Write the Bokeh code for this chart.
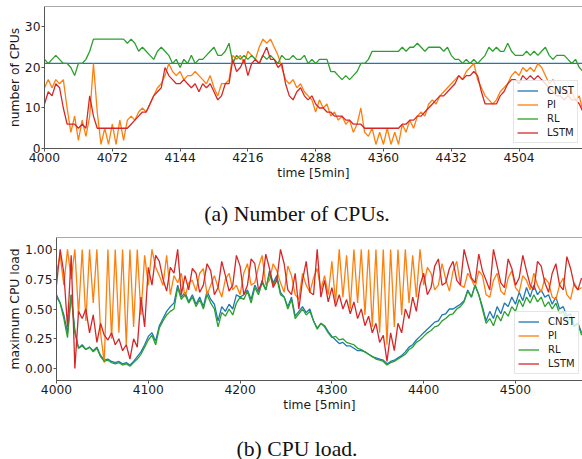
from bokeh.plotting import figure
from bokeh.models import Range1d, Legend, LegendItem, FixedTicker, Span
from bokeh.core.properties import value
from bokeh.embed import file_html
from bokeh.resources import INLINE

# ---------------- data ----------------
t = list(range(4000, 4576, 4))

cnst_cpu = [21] * 144
pi_cpu = [15,17,15,17,16,17,10,4,8,2,7,3,
          8,21,9,1,5,1,6,1,7,2,7,8,
          7,9,10,9,11,13,15,16,18,21,19,18,
          19,17,18,18,19,18,17,16,18,15,13,16,
          16,17,23,22,23,21,24,23,22,25,27,26,
          27,25,23,20,17,16,17,15,16,14,13,12,
          9,12,10,11,8,9,7,8,6,7,4,6,
          10,4,3,5,1,4,1,5,1,4,1,6,
          4,7,5,8,9,8,11,12,11,13,14,15,
          16,17,18,17,19,20,21,17,15,13,12,11,
          12,14,15,16,18,19,18,20,19,20,19,21,
          20,18,16,17,15,14,15,13,14,12,13,9]
rl_cpu = [22,21,22,23,22,21,21,20,18,21,21,22,
          24,27,27,27,27,27,27,27,27,27,26,27,
          26,24,25,24,23,22,24,25,24,23,21,22,
          20,22,21,23,21,22,22,23,24,25,23,23,
          24,26,21,23,22,23,22,23,22,21,23,22,
          23,22,21,23,22,22,23,22,22,23,21,22,
          21,22,22,22,19,19,18,17,18,17,18,19,
          21,21,22,24,24,24,24,24,24,24,24,25,
          24,25,25,26,25,24,25,25,25,25,24,25,
          23,22,22,21,22,21,22,21,22,23,25,24,
          25,24,24,26,24,23,23,23,24,23,24,23,
          24,25,23,22,23,23,23,22,21,22,20,19]
lstm_cpu = [11,14,13,16,15,10,6,6,6,5,6,5,
            13,8,5,5,5,5,5,5,5,5,5,6,
            7,8,9,9,11,13,14,15,20,18,17,16,
            16,17,16,15,16,14,16,15,16,14,12,13,
            16,16,22,19,20,22,18,21,22,21,23,25,
            22,22,20,21,16,13,12,14,15,13,12,13,
            11,10,10,9,9,8,8,8,7,7,6,6,
            6,5,5,5,5,5,5,5,5,5,5,6,
            6,7,7,8,8,9,10,11,12,13,13,14,
            15,16,18,17,18,18,19,18,14,11,11,11,
            11,13,14,16,17,17,16,18,17,18,17,18,
            17,16,15,14,13,13,12,13,12,12,11,9]

cnst_load = [0.62,0.55,0.45,0.30,0.62,0.32,0.17,0.20,0.16,0.18,0.15,0.18,
             0.11,0.07,0.08,0.06,0.05,0.06,0.04,0.05,0.03,0.06,0.10,0.14,
             0.20,0.27,0.30,0.23,0.36,0.42,0.48,0.52,0.55,0.70,0.60,0.64,
             0.56,0.62,0.54,0.60,0.52,0.65,0.58,0.54,0.40,0.52,0.48,0.54,
             0.50,0.62,0.60,0.62,0.66,0.58,0.70,0.64,0.74,0.66,0.82,0.72,
             0.78,0.64,0.60,0.52,0.60,0.44,0.48,0.52,0.47,0.50,0.40,0.34,
             0.38,0.36,0.31,0.27,0.24,0.21,0.22,0.19,0.19,0.17,0.15,0.15,
             0.14,0.12,0.10,0.09,0.08,0.07,0.04,0.06,0.07,0.09,0.11,0.14,
             0.18,0.20,0.24,0.27,0.30,0.33,0.36,0.39,0.40,0.45,0.46,0.50,
             0.50,0.52,0.54,0.57,0.66,0.60,0.70,0.62,0.52,0.40,0.48,0.42,
             0.52,0.46,0.55,0.52,0.60,0.54,0.64,0.57,0.68,0.60,0.70,0.62,
             0.66,0.60,0.62,0.54,0.60,0.50,0.52,0.44,0.46,0.36,0.38,0.30]
pi_load = [0.80,0.95,0.70,1.00,0.75,1.00,0.45,1.00,0.40,1.00,0.55,1.00,
           0.30,0.05,1.00,0.25,1.00,0.30,1.00,0.20,1.00,0.35,1.00,0.45,
           0.95,0.70,1.00,0.85,0.78,0.70,0.95,0.62,0.78,0.72,0.80,0.60,
           0.72,0.74,0.65,0.80,0.84,0.62,0.70,0.78,0.68,0.60,0.75,0.80,
           0.66,0.70,0.62,0.80,0.88,0.70,0.72,0.85,0.95,0.70,0.74,0.88,
           0.82,0.72,0.64,0.86,0.78,0.62,0.58,0.80,0.70,0.64,0.76,0.84,
           0.66,0.78,0.62,0.90,0.55,1.00,0.60,0.95,0.50,1.00,0.55,1.00,
           0.45,1.00,0.35,1.00,0.30,1.00,0.20,1.00,0.35,1.00,0.45,1.00,
           0.55,0.95,0.60,1.00,0.70,0.85,0.80,0.66,0.70,0.88,0.75,0.65,
           0.82,0.90,0.70,0.68,0.80,0.75,0.68,0.82,0.78,0.62,0.60,0.74,
           0.80,0.65,0.62,0.76,0.82,0.68,0.64,0.78,0.74,0.66,0.80,0.70,
           0.64,0.76,0.72,0.60,0.58,0.70,0.76,0.62,0.58,0.72,0.66,0.68]
rl_load = [0.60,0.55,0.42,0.26,0.62,0.30,0.17,0.19,0.16,0.18,0.14,0.17,
           0.10,0.06,0.07,0.05,0.04,0.05,0.03,0.04,0.02,0.05,0.08,0.12,
           0.18,0.24,0.28,0.20,0.34,0.40,0.45,0.48,0.50,0.68,0.58,0.62,
           0.55,0.60,0.52,0.58,0.50,0.62,0.55,0.50,0.35,0.47,0.44,0.50,
           0.45,0.55,0.60,0.58,0.65,0.55,0.68,0.62,0.72,0.66,0.80,0.70,
           0.76,0.62,0.60,0.50,0.58,0.42,0.46,0.50,0.45,0.48,0.40,0.33,
           0.38,0.35,0.30,0.26,0.27,0.24,0.25,0.22,0.21,0.20,0.17,0.16,
           0.14,0.12,0.10,0.08,0.07,0.06,0.03,0.05,0.06,0.08,0.10,0.12,
           0.16,0.18,0.22,0.24,0.27,0.30,0.32,0.35,0.36,0.40,0.42,0.45,
           0.46,0.50,0.52,0.56,0.65,0.60,0.70,0.62,0.50,0.38,0.42,0.36,
           0.45,0.40,0.48,0.44,0.52,0.48,0.58,0.52,0.60,0.55,0.62,0.56,
           0.60,0.52,0.56,0.50,0.55,0.46,0.48,0.40,0.42,0.35,0.38,0.28]
lstm_load = [0.70,1.00,0.80,0.35,0.95,0.00,0.48,0.42,0.50,0.30,0.45,0.22,
             0.38,0.28,0.24,0.30,0.20,0.25,0.15,0.20,0.08,0.25,0.18,0.60,
             0.35,0.85,0.70,0.95,0.90,0.75,0.65,0.85,0.80,1.00,0.62,0.78,
             0.66,0.84,0.80,0.64,0.70,0.88,0.82,0.62,0.68,0.90,0.78,0.65,
             0.70,0.95,0.86,0.62,0.70,0.92,0.88,0.66,0.72,0.96,0.84,0.68,
             0.74,1.00,0.88,0.66,0.62,0.80,0.50,0.74,0.90,0.64,0.62,1.00,
             0.60,0.74,0.56,0.68,0.52,0.62,0.50,0.58,0.46,0.56,0.42,0.50,
             0.36,0.44,0.30,0.38,0.22,0.28,0.06,0.30,0.15,0.38,0.30,0.50,
             0.42,0.60,0.48,0.70,0.80,0.62,0.68,0.86,0.92,0.70,0.72,0.84,
             0.90,0.74,0.70,1.00,0.88,0.76,0.72,0.96,0.82,0.74,0.66,1.00,
             0.86,0.72,0.68,0.92,0.84,0.70,0.76,0.95,0.82,0.70,0.66,0.90,
             0.86,0.72,0.64,0.80,0.88,0.70,0.66,0.94,0.84,0.70,0.66,0.76]

series_names = ["CNST", "PI", "RL", "LSTM"]
colors = ["#1f77b4", "#ff7f0e", "#2ca02c", "#d62728"]

x_ticks_cpu = [4000, 4072, 4144, 4216, 4288, 4360, 4432, 4504]
y_ticks_cpu = [0, 10, 20, 30]
x_ticks_load = [4000, 4100, 4200, 4300, 4400, 4500]
y_ticks_load = [0, 0.25, 0.5, 0.75, 1.0]
y_tick_labels_load = ["0.00", "0.25", "0.50", "0.75", "1.00"]

caption_a = ["(a) Number of CPUs."]
caption_b = ["(b) CPU load."]

FONT = "DejaVu Sans"
FS = "12.3px"
SPINE = "#555555"
CAP_FONT = "Liberation Serif"
CAP_FS = "21.7px"
W = 582


def style(p):
    p.outline_line_color = None
    p.xgrid.visible = False
    p.ygrid.visible = False
    p.background_fill_color = "white"
    p.border_fill_color = "white"
    for ax in (p.xaxis[0], p.yaxis[0]):
        ax.axis_line_color = SPINE
        ax.axis_line_width = 1
        ax.major_tick_line_color = SPINE
        ax.major_tick_out = 3
        ax.major_tick_in = 0
        ax.minor_tick_out = 0
        ax.minor_tick_in = 0
        ax.major_label_text_font = FONT
        ax.major_label_text_font_size = FS
        ax.major_label_text_color = "#1a1a1a"
        ax.axis_label_text_font = FONT
        ax.axis_label_text_font_size = FS
        ax.axis_label_text_font_style = "normal"
        ax.axis_label_text_color = "#1a1a1a"
        ax.major_label_standoff = 1
        ax.axis_label_standoff = 1
    p.yaxis[0].axis_label_standoff = 0


def add_legend(p, renderers, loc):
    items = [LegendItem(label=n, renderers=[r]) for n, r in zip(series_names, renderers)]
    lg = Legend(items=items, location=loc)
    lg.label_text_font = FONT
    lg.label_text_font_size = "10px"
    lg.label_text_color = "#1a1a1a"
    lg.glyph_width = 21
    lg.glyph_height = 13
    lg.label_height = 13
    lg.spacing = 1
    lg.padding = 3
    lg.margin = 0
    lg.label_standoff = 9
    lg.border_line_color = "#cccccc"
    lg.border_line_width = 1
    lg.background_fill_color = "white"
    lg.background_fill_alpha = 0.8
    p.add_layout(lg)


def caption_fig(text, h, yc):
    c = figure(width=W, height=h, output_backend="svg", toolbar_location=None,
               x_range=Range1d(0, W), y_range=Range1d(0, h),
               x_axis_type=None, y_axis_type=None,
               min_border_left=0, min_border_right=0, min_border_top=0, min_border_bottom=0)
    c.outline_line_color = None
    c.xgrid.visible = False
    c.ygrid.visible = False
    c.text(x=[296.5], y=[yc], text=text, text_align="center", text_baseline="middle",
           text_font=value(CAP_FONT), text_font_size=value(CAP_FS), text_color="#111111")
    return c


# ---------------- (a) number of CPUs ----------------
p1 = figure(width=W, height=190, output_backend="svg", toolbar_location=None,
            x_range=Range1d(4000, 4571.4), y_range=Range1d(0, 35.06),
            min_border_left=44, min_border_right=0, min_border_top=6, min_border_bottom=42)
style(p1)
p1.xaxis[0].ticker = FixedTicker(ticks=x_ticks_cpu, minor_ticks=[])
p1.yaxis[0].ticker = FixedTicker(ticks=y_ticks_cpu, minor_ticks=[])
p1.xaxis[0].axis_label = "time [5min]"
p1.yaxis[0].axis_label = "number of CPUs"
r1 = []
for ys, c in zip([cnst_cpu, pi_cpu, rl_cpu, lstm_cpu], colors):
    r1.append(p1.line(t, ys, line_color=c, line_width=1.3))
p1.add_layout(Span(location=35.06, dimension="width", line_color=SPINE, line_width=1))
add_legend(p1, r1, (469, 5))

cap1 = caption_fig(caption_a, 47, 24)

# ---------------- (b) CPU load ----------------
p2 = figure(width=W, height=181, output_backend="svg", toolbar_location=None,
            x_range=Range1d(4000, 4573), y_range=Range1d(-0.1, 1.1),
            min_border_left=56, min_border_right=0, min_border_top=0, min_border_bottom=38)
style(p2)
p2.xaxis[0].ticker = FixedTicker(ticks=x_ticks_load, minor_ticks=[])
p2.yaxis[0].ticker = FixedTicker(ticks=y_ticks_load, minor_ticks=[])
p2.yaxis[0].major_label_overrides = dict(zip(y_ticks_load, y_tick_labels_load))
p2.xaxis[0].axis_label = "time [5min]"
p2.yaxis[0].axis_label = "maximum CPU load"
r2 = []
for ys, c in zip([cnst_load, pi_load, rl_load, lstm_load], colors):
    r2.append(p2.line(t, ys, line_color=c, line_width=1.3))
p2.add_layout(Span(location=1.1, dimension="width", line_color=SPINE, line_width=1))
add_legend(p2, r2, (458, 6))

cap2 = caption_fig(caption_b, 41, 11)

# separate roots stacked in the page (avoids frame alignment of a column layout)
open("out.html", "w").write(file_html([p1, cap1, p2, cap2], INLINE))
